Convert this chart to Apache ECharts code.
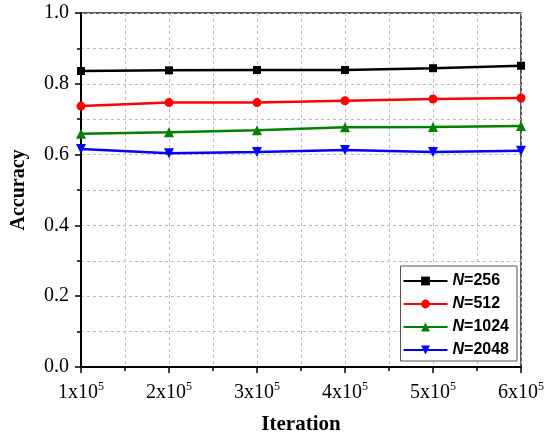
<!DOCTYPE html>
<html><head><meta charset="utf-8">
<script src="https://cdn.jsdelivr.net/npm/echarts@6/dist/echarts.min.js"></script>
<style>html,body{margin:0;padding:0;background:#fff}#c{width:547px;height:437px}</style>
</head><body><div id="c"></div>
<script>
const iterations = [1, 2, 3, 4, 5, 6]; // x10^5
const seriesNames = ['N=256', 'N=512', 'N=1024', 'N=2048'];
const acc256  = [0.836, 0.838, 0.839, 0.839, 0.844, 0.851];
const acc512  = [0.737, 0.747, 0.747, 0.752, 0.757, 0.760];
const acc1024 = [0.659, 0.663, 0.669, 0.677, 0.678, 0.681];
const acc2048 = [0.616, 0.604, 0.607, 0.613, 0.607, 0.611];
const yTicks = [0.0, 0.2, 0.4, 0.6, 0.8, 1.0];

const colors = ['#000000', '#ff0000', '#008000', '#0000ff'];
const symbols = ['rect', 'circle', 'triangle', 'path://M0,0 L10,0 L5,9 Z'];
const sizes = [8, 9, 10, 10];
const allData = [acc256, acc512, acc1024, acc2048];

const chart = echarts.init(document.getElementById('c'));
const serif = '"Liberation Serif", "Times New Roman", serif';
const sans = '"Liberation Sans", Arial, sans-serif';
chart.setOption({
  animation: false,
  grid: { left: 81, right: 26, top: 13, bottom: 70, show: true, borderColor: '#222', borderWidth: 1.5, backgroundColor: 'transparent', outerBoundsMode: 'none', containLabel: false },
  xAxis: {
    type: 'value', min: 1, max: 6, interval: 1,
    name: 'Iteration', nameLocation: 'middle', nameGap: 47,
    nameTextStyle: { fontFamily: serif, fontWeight: 'bold', fontSize: 21, color: '#000' },
    axisLine: { show: true, onZero: false, lineStyle: { color: '#000', width: 2 } },
    axisTick: { show: true, inside: false, length: 6, lineStyle: { color: '#000', width: 1.5 } },
    minorTick: { show: true, splitNumber: 2, length: 4, lineStyle: { color: '#000', width: 1.5 } },
    splitLine: { show: true, lineStyle: { color: '#bbb', type: [3, 3], width: 1 } },
    minorSplitLine: { show: true, lineStyle: { color: '#bbb', type: [3, 3], width: 1 } },
    axisLabel: {
      margin: 14,
      formatter: v => '{a|' + v + 'x10}{b|5}',
      rich: {
        a: { fontFamily: serif, fontSize: 20, color: '#000' },
        b: { fontFamily: serif, fontSize: 12, color: '#000', padding: [0, 0, 11, 0] }
      }
    }
  },
  yAxis: {
    type: 'value', min: 0, max: 1, interval: 0.2,
    name: 'Accuracy', nameLocation: 'middle', nameGap: 52,
    nameTextStyle: { fontFamily: serif, fontWeight: 'bold', fontSize: 20, color: '#000' },
    axisLine: { show: true, lineStyle: { color: '#000', width: 2 } },
    axisTick: { show: true, inside: false, length: 6, lineStyle: { color: '#000', width: 1.5 } },
    minorTick: { show: true, splitNumber: 2, length: 4, lineStyle: { color: '#000', width: 1.5 } },
    splitLine: { show: true, lineStyle: { color: '#bbb', type: [3, 3], width: 1 } },
    minorSplitLine: { show: true, lineStyle: { color: '#bbb', type: [3, 3], width: 1 } },
    axisLabel: { fontFamily: serif, fontSize: 20, color: '#000', margin: 12, formatter: v => v.toFixed(1) }
  },
  legend: {
    orient: 'vertical', right: 30, bottom: 76,
    backgroundColor: '#fff', borderColor: '#555', borderWidth: 1,
    padding: [7, 8, 3, 2], itemGap: 7, itemWidth: 44, itemHeight: 11,
    data: seriesNames,
    formatter: name => '{i|N}{b|' + name.slice(1) + '}',
    textStyle: {
      rich: {
        i: { fontFamily: sans, fontSize: 16, fontWeight: 'bold', fontStyle: 'italic', color: '#000' },
        b: { fontFamily: sans, fontSize: 16, fontWeight: 'bold', color: '#000' }
      }
    }
  },
  series: seriesNames.map((n, i) => ({
    name: n, type: 'line',
    data: iterations.map((x, j) => [x, allData[i][j]]),
    symbol: symbols[i], symbolSize: sizes[i], showAllSymbol: true,
    lineStyle: { color: colors[i], width: 2.5 },
    itemStyle: { color: colors[i] },
    clip: false, z: 5
  }))
});
</script></body></html>
